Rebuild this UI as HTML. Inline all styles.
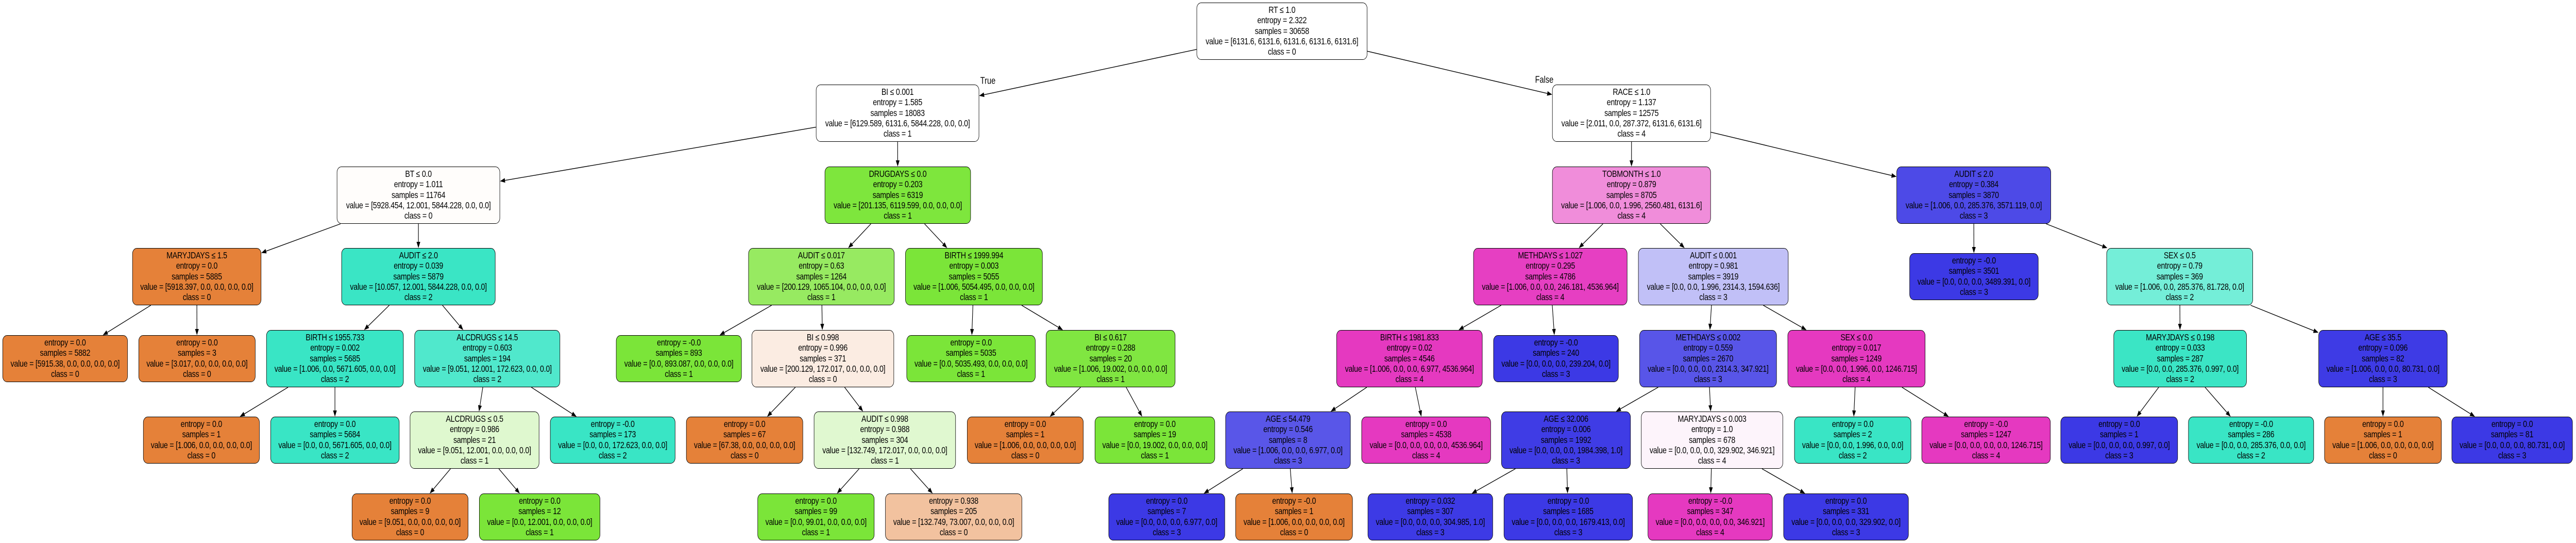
<!DOCTYPE html>
<html><head><meta charset="utf-8">
<style>
html{margin:0;padding:0;overflow:hidden;background:#fff;}
body{margin:0;padding:0;background:#fff;overflow:hidden;font-family:"Liberation Sans",Arial,sans-serif;}
#root{position:absolute;left:0;top:0;width:6172px;height:1053px;transform-origin:0 0;overflow:hidden;}
.n{position:absolute;box-sizing:border-box;border:1.3px solid #000;border-radius:11px;text-align:center;font-size:17.6px;line-height:20.3px;padding-top:3px;white-space:nowrap;color:#000;letter-spacing:-0.3px;overflow:hidden;}
.lbl{position:absolute;font-size:18px;transform:translate(-50%,-50%);white-space:nowrap;}
svg{position:absolute;left:0;top:0;overflow:hidden;}
</style></head><body>
<div id="root">
<svg id="edges" width="6172" height="1053"></svg>

<div class="n" id="n0" style="left:2867px;top:5px;width:409px;height:111px;background:#ffffff">RT ≤ 1.0<br>entropy = 2.322<br>samples = 30658<br>value = [6131.6, 6131.6, 6131.6, 6131.6, 6131.6]<br>class = 0</div>

<div class="n" id="n1" style="left:1955px;top:164px;width:391px;height:111px;background:#ffffff">BI ≤ 0.001<br>entropy = 1.585<br>samples = 18083<br>value = [6129.589, 6131.6, 5844.228, 0.0, 0.0]<br>class = 1</div>
<div class="n" id="n2" style="left:3719px;top:164px;width:380px;height:111px;background:#ffffff">RACE ≤ 1.0<br>entropy = 1.137<br>samples = 12575<br>value = [2.011, 0.0, 287.372, 6131.6, 6131.6]<br>class = 4</div>

<div class="n" id="n3" style="left:807px;top:323px;width:391px;height:111px;background:#fffdfb">BT ≤ 0.0<br>entropy = 1.011<br>samples = 11764<br>value = [5928.454, 12.001, 5844.228, 0.0, 0.0]<br>class = 0</div>
<div class="n" id="n4" style="left:1976px;top:323px;width:350px;height:111px;background:#7ee63d">DRUGDAYS ≤ 0.0<br>entropy = 0.203<br>samples = 6319<br>value = [201.135, 6119.599, 0.0, 0.0, 0.0]<br>class = 1</div>
<div class="n" id="n5" style="left:3719px;top:323px;width:380px;height:111px;background:#f08dda">TOBMONTH ≤ 1.0<br>entropy = 0.879<br>samples = 8705<br>value = [1.006, 0.0, 1.996, 2560.481, 6131.6]<br>class = 4</div>
<div class="n" id="n6" style="left:4544px;top:323px;width:370px;height:111px;background:#4d4ae7">AUDIT ≤ 2.0<br>entropy = 0.384<br>samples = 3870<br>value = [1.006, 0.0, 285.376, 3571.119, 0.0]<br>class = 3</div>

<div class="n" id="n7" style="left:317px;top:481px;width:309px;height:111px;background:#e58139">MARYJDAYS ≤ 1.5<br>entropy = 0.0<br>samples = 5885<br>value = [5918.397, 0.0, 0.0, 0.0, 0.0]<br>class = 0</div>
<div class="n" id="n8" style="left:818px;top:481px;width:369px;height:111px;background:#3ae5c5">AUDIT ≤ 2.0<br>entropy = 0.039<br>samples = 5879<br>value = [10.057, 12.001, 5844.228, 0.0, 0.0]<br>class = 2</div>
<div class="n" id="n9" style="left:1793px;top:481px;width:350px;height:111px;background:#97ea61">AUDIT ≤ 0.017<br>entropy = 0.63<br>samples = 1264<br>value = [200.129, 1065.104, 0.0, 0.0, 0.0]<br>class = 1</div>
<div class="n" id="n10" style="left:2169px;top:481px;width:329px;height:111px;background:#7be539">BIRTH ≤ 1999.994<br>entropy = 0.003<br>samples = 5055<br>value = [1.006, 5054.495, 0.0, 0.0, 0.0]<br>class = 1</div>
<div class="n" id="n11" style="left:3530px;top:481px;width:369px;height:111px;background:#e63fc2">METHDAYS ≤ 1.027<br>entropy = 0.295<br>samples = 4786<br>value = [1.006, 0.0, 0.0, 246.181, 4536.964]<br>class = 4</div>
<div class="n" id="n12" style="left:3925px;top:481px;width:360px;height:111px;background:#c1c0f7">AUDIT ≤ 0.001<br>entropy = 0.981<br>samples = 3919<br>value = [0.0, 0.0, 1.996, 2314.3, 1594.636]<br>class = 3</div>
<div class="n" id="n13" style="left:4575px;top:491px;width:309px;height:91px;background:#3c39e5">entropy = -0.0<br>samples = 3501<br>value = [0.0, 0.0, 0.0, 3489.391, 0.0]<br>class = 3</div>
<div class="n" id="n14" style="left:5047px;top:481px;width:351px;height:111px;background:#74eed8">SEX ≤ 0.5<br>entropy = 0.79<br>samples = 369<br>value = [1.006, 0.0, 285.376, 81.728, 0.0]<br>class = 2</div>

<div class="n" id="n15" style="left:6px;top:650px;width:300px;height:91px;background:#e58139">entropy = 0.0<br>samples = 5882<br>value = [5915.38, 0.0, 0.0, 0.0, 0.0]<br>class = 0</div>
<div class="n" id="n16" style="left:332px;top:650px;width:280px;height:91px;background:#e58139">entropy = 0.0<br>samples = 3<br>value = [3.017, 0.0, 0.0, 0.0, 0.0]<br>class = 0</div>
<div class="n" id="n17" style="left:638px;top:640px;width:329px;height:111px;background:#39e5c5">BIRTH ≤ 1955.733<br>entropy = 0.002<br>samples = 5685<br>value = [1.006, 0.0, 5671.605, 0.0, 0.0]<br>class = 2</div>
<div class="n" id="n18" style="left:993px;top:640px;width:349px;height:111px;background:#50e8cc">ALCDRUGS ≤ 14.5<br>entropy = 0.603<br>samples = 194<br>value = [9.051, 12.001, 172.623, 0.0, 0.0]<br>class = 2</div>
<div class="n" id="n19" style="left:1476px;top:650px;width:301px;height:91px;background:#7be539">entropy = -0.0<br>samples = 893<br>value = [0.0, 893.087, 0.0, 0.0, 0.0]<br>class = 1</div>
<div class="n" id="n20" style="left:1801px;top:640px;width:341px;height:111px;background:#fbece2">BI ≤ 0.998<br>entropy = 0.996<br>samples = 371<br>value = [200.129, 172.017, 0.0, 0.0, 0.0]<br>class = 0</div>
<div class="n" id="n21" style="left:2172px;top:650px;width:309px;height:91px;background:#7be539">entropy = 0.0<br>samples = 5035<br>value = [0.0, 5035.493, 0.0, 0.0, 0.0]<br>class = 1</div>
<div class="n" id="n22" style="left:2506px;top:640px;width:310px;height:111px;background:#80e641">BI ≤ 0.617<br>entropy = 0.288<br>samples = 20<br>value = [1.006, 19.002, 0.0, 0.0, 0.0]<br>class = 1</div>
<div class="n" id="n23" style="left:3202px;top:640px;width:350px;height:111px;background:#e539c0">BIRTH ≤ 1981.833<br>entropy = 0.02<br>samples = 4546<br>value = [1.006, 0.0, 0.0, 6.977, 4536.964]<br>class = 4</div>
<div class="n" id="n24" style="left:3578px;top:650px;width:300px;height:91px;background:#3c39e5">entropy = -0.0<br>samples = 240<br>value = [0.0, 0.0, 0.0, 239.204, 0.0]<br>class = 3</div>
<div class="n" id="n25" style="left:3928px;top:640px;width:329px;height:111px;background:#5855e8">METHDAYS ≤ 0.002<br>entropy = 0.559<br>samples = 2670<br>value = [0.0, 0.0, 0.0, 2314.3, 347.921]<br>class = 3</div>
<div class="n" id="n26" style="left:4283px;top:640px;width:330px;height:111px;background:#e539c0">SEX ≤ 0.0<br>entropy = 0.017<br>samples = 1249<br>value = [0.0, 0.0, 1.996, 0.0, 1246.715]<br>class = 4</div>
<div class="n" id="n27" style="left:5064px;top:640px;width:319px;height:111px;background:#3be5c5">MARYJDAYS ≤ 0.198<br>entropy = 0.033<br>samples = 287<br>value = [0.0, 0.0, 285.376, 0.997, 0.0]<br>class = 2</div>
<div class="n" id="n28" style="left:5555px;top:640px;width:309px;height:111px;background:#3e3be5">AGE ≤ 35.5<br>entropy = 0.096<br>samples = 82<br>value = [1.006, 0.0, 0.0, 80.731, 0.0]<br>class = 3</div>

<div class="n" id="n29" style="left:343px;top:808px;width:279px;height:91px;background:#e58139">entropy = 0.0<br>samples = 1<br>value = [1.006, 0.0, 0.0, 0.0, 0.0]<br>class = 0</div>
<div class="n" id="n30" style="left:648px;top:808px;width:309px;height:91px;background:#39e5c5">entropy = 0.0<br>samples = 5684<br>value = [0.0, 0.0, 5671.605, 0.0, 0.0]<br>class = 2</div>
<div class="n" id="n31" style="left:982px;top:798px;width:310px;height:111px;background:#dff8cf">ALCDRUGS ≤ 0.5<br>entropy = 0.986<br>samples = 21<br>value = [9.051, 12.001, 0.0, 0.0, 0.0]<br>class = 1</div>
<div class="n" id="n32" style="left:1318px;top:808px;width:300px;height:91px;background:#39e5c5">entropy = -0.0<br>samples = 173<br>value = [0.0, 0.0, 172.623, 0.0, 0.0]<br>class = 2</div>
<div class="n" id="n33" style="left:1644px;top:808px;width:280px;height:91px;background:#e58139">entropy = 0.0<br>samples = 67<br>value = [67.38, 0.0, 0.0, 0.0, 0.0]<br>class = 0</div>
<div class="n" id="n34" style="left:1950px;top:798px;width:340px;height:111px;background:#e0f8d0">AUDIT ≤ 0.998<br>entropy = 0.988<br>samples = 304<br>value = [132.749, 172.017, 0.0, 0.0, 0.0]<br>class = 1</div>
<div class="n" id="n35" style="left:2317px;top:808px;width:279px;height:91px;background:#e58139">entropy = 0.0<br>samples = 1<br>value = [1.006, 0.0, 0.0, 0.0, 0.0]<br>class = 0</div>
<div class="n" id="n36" style="left:2623px;top:808px;width:288px;height:91px;background:#7be539">entropy = 0.0<br>samples = 19<br>value = [0.0, 19.002, 0.0, 0.0, 0.0]<br>class = 1</div>
<div class="n" id="n37" style="left:2936px;top:798px;width:300px;height:111px;background:#5956e8">AGE ≤ 54.479<br>entropy = 0.546<br>samples = 8<br>value = [1.006, 0.0, 0.0, 6.977, 0.0]<br>class = 3</div>
<div class="n" id="n38" style="left:3262px;top:808px;width:310px;height:91px;background:#e539c0">entropy = 0.0<br>samples = 4538<br>value = [0.0, 0.0, 0.0, 0.0, 4536.964]<br>class = 4</div>
<div class="n" id="n39" style="left:3597px;top:798px;width:310px;height:111px;background:#3f3ce5">AGE ≤ 32.006<br>entropy = 0.006<br>samples = 1992<br>value = [0.0, 0.0, 0.0, 1984.398, 1.0]<br>class = 3</div>
<div class="n" id="n40" style="left:3932px;top:798px;width:340px;height:111px;background:#fdf4fb">MARYJDAYS ≤ 0.003<br>entropy = 1.0<br>samples = 678<br>value = [0.0, 0.0, 0.0, 329.902, 346.921]<br>class = 4</div>
<div class="n" id="n41" style="left:4299px;top:808px;width:280px;height:91px;background:#39e5c5">entropy = 0.0<br>samples = 2<br>value = [0.0, 0.0, 1.996, 0.0, 0.0]<br>class = 2</div>
<div class="n" id="n42" style="left:4604px;top:808px;width:309px;height:91px;background:#e539c0">entropy = -0.0<br>samples = 1247<br>value = [0.0, 0.0, 0.0, 0.0, 1246.715]<br>class = 4</div>
<div class="n" id="n43" style="left:4937px;top:808px;width:281px;height:91px;background:#3c39e5">entropy = 0.0<br>samples = 1<br>value = [0.0, 0.0, 0.0, 0.997, 0.0]<br>class = 3</div>
<div class="n" id="n44" style="left:5243px;top:808px;width:301px;height:91px;background:#39e5c5">entropy = -0.0<br>samples = 286<br>value = [0.0, 0.0, 285.376, 0.0, 0.0]<br>class = 2</div>
<div class="n" id="n45" style="left:5569px;top:808px;width:281px;height:91px;background:#e58139">entropy = 0.0<br>samples = 1<br>value = [1.006, 0.0, 0.0, 0.0, 0.0]<br>class = 0</div>
<div class="n" id="n46" style="left:5874px;top:808px;width:290px;height:91px;background:#3c39e5">entropy = 0.0<br>samples = 81<br>value = [0.0, 0.0, 0.0, 80.731, 0.0]<br>class = 3</div>

<div class="n" id="n47" style="left:843px;top:957px;width:279px;height:91px;background:#e58139">entropy = 0.0<br>samples = 9<br>value = [9.051, 0.0, 0.0, 0.0, 0.0]<br>class = 0</div>
<div class="n" id="n48" style="left:1148px;top:957px;width:290px;height:91px;background:#7be539">entropy = 0.0<br>samples = 12<br>value = [0.0, 12.001, 0.0, 0.0, 0.0]<br>class = 1</div>
<div class="n" id="n49" style="left:1815px;top:957px;width:280px;height:91px;background:#7be539">entropy = 0.0<br>samples = 99<br>value = [0.0, 99.01, 0.0, 0.0, 0.0]<br>class = 1</div>
<div class="n" id="n50" style="left:2121px;top:957px;width:328px;height:91px;background:#f2c29f">entropy = 0.938<br>samples = 205<br>value = [132.749, 73.007, 0.0, 0.0, 0.0]<br>class = 0</div>
<div class="n" id="n51" style="left:2656px;top:957px;width:279px;height:91px;background:#3c39e5">entropy = 0.0<br>samples = 7<br>value = [0.0, 0.0, 0.0, 6.977, 0.0]<br>class = 3</div>
<div class="n" id="n52" style="left:2960px;top:957px;width:281px;height:91px;background:#e58139">entropy = -0.0<br>samples = 1<br>value = [1.006, 0.0, 0.0, 0.0, 0.0]<br>class = 0</div>
<div class="n" id="n53" style="left:3277px;top:957px;width:300px;height:91px;background:#3d3ae5">entropy = 0.032<br>samples = 307<br>value = [0.0, 0.0, 0.0, 304.985, 1.0]<br>class = 3</div>
<div class="n" id="n54" style="left:3603px;top:957px;width:309px;height:91px;background:#3c39e5">entropy = 0.0<br>samples = 1685<br>value = [0.0, 0.0, 0.0, 1679.413, 0.0]<br>class = 3</div>
<div class="n" id="n55" style="left:3948px;top:957px;width:299px;height:91px;background:#e539c0">entropy = -0.0<br>samples = 347<br>value = [0.0, 0.0, 0.0, 0.0, 346.921]<br>class = 4</div>
<div class="n" id="n56" style="left:4273px;top:957px;width:300px;height:91px;background:#3c39e5">entropy = 0.0<br>samples = 331<br>value = [0.0, 0.0, 0.0, 329.902, 0.0]<br>class = 3</div>

<div class="lbl" style="left:2367px;top:157px">True</div>
<div class="lbl" style="left:3700px;top:155px">False</div>
</div>

<script>
var E=[[0,1],[0,2],[1,3],[1,4],[2,5],[2,6],[3,7],[3,8],[4,9],[4,10],[5,11],[5,12],[6,13],[6,14],
[7,15],[7,16],[8,17],[8,18],[9,19],[9,20],[10,21],[10,22],[11,23],[11,24],[12,25],[12,26],[14,27],[14,28],
[17,29],[17,30],[18,31],[18,32],[20,33],[20,34],[22,35],[22,36],[23,37],[23,38],[25,39],[25,40],[26,41],[26,42],
[27,43],[27,44],[28,45],[28,46],[31,47],[31,48],[34,49],[34,50],[37,51],[37,52],[39,53],[39,54],[40,55],[40,56]];
function box(i){var d=document.getElementById('n'+i);var x=parseFloat(d.style.left),y=parseFloat(d.style.top),w=parseFloat(d.style.width),h=parseFloat(d.style.height);return {cx:x+w/2,cy:y+h/2,hw:w/2,hh:h/2};}
function clip(b,dx,dy){var t=1e9;if(Math.abs(dx)>1e-6)t=Math.min(t,b.hw/Math.abs(dx));if(Math.abs(dy)>1e-6)t=Math.min(t,b.hh/Math.abs(dy));return t;}
var s='';
E.forEach(function(e){var a=box(e[0]),b=box(e[1]);var dx=b.cx-a.cx,dy=b.cy-a.cy;var L=Math.sqrt(dx*dx+dy*dy);var ux=dx/L,uy=dy/L;
var t1=clip(a,ux,uy),t2=clip(b,ux,uy);
var sx=a.cx+ux*t1,sy=a.cy+uy*t1,ex=b.cx-ux*t2,ey=b.cy-uy*t2;
var al=12,aw=4.5;var bx=ex-ux*al,by=ey-uy*al;
s+='<line x1="'+sx+'" y1="'+sy+'" x2="'+bx+'" y2="'+by+'" stroke="#000" stroke-width="1.4"/>';
s+='<polygon points="'+ex+','+ey+' '+(bx-uy*aw)+','+(by+ux*aw)+' '+(bx+uy*aw)+','+(by-ux*aw)+'" fill="#000"/>';});
document.getElementById('edges').innerHTML=s;
function fit(){var w=document.documentElement.clientWidth||window.innerWidth||6172;var h=document.documentElement.clientHeight||window.innerHeight||1053;
var sx=w/6172,sy=h/1053;if(!(sx>0))sx=1;if(!(sy>0))sy=1;
document.getElementById('root').style.transform='scale('+sx+','+sy+')';}
fit();window.addEventListener('resize',fit);
</script>
</body></html>
